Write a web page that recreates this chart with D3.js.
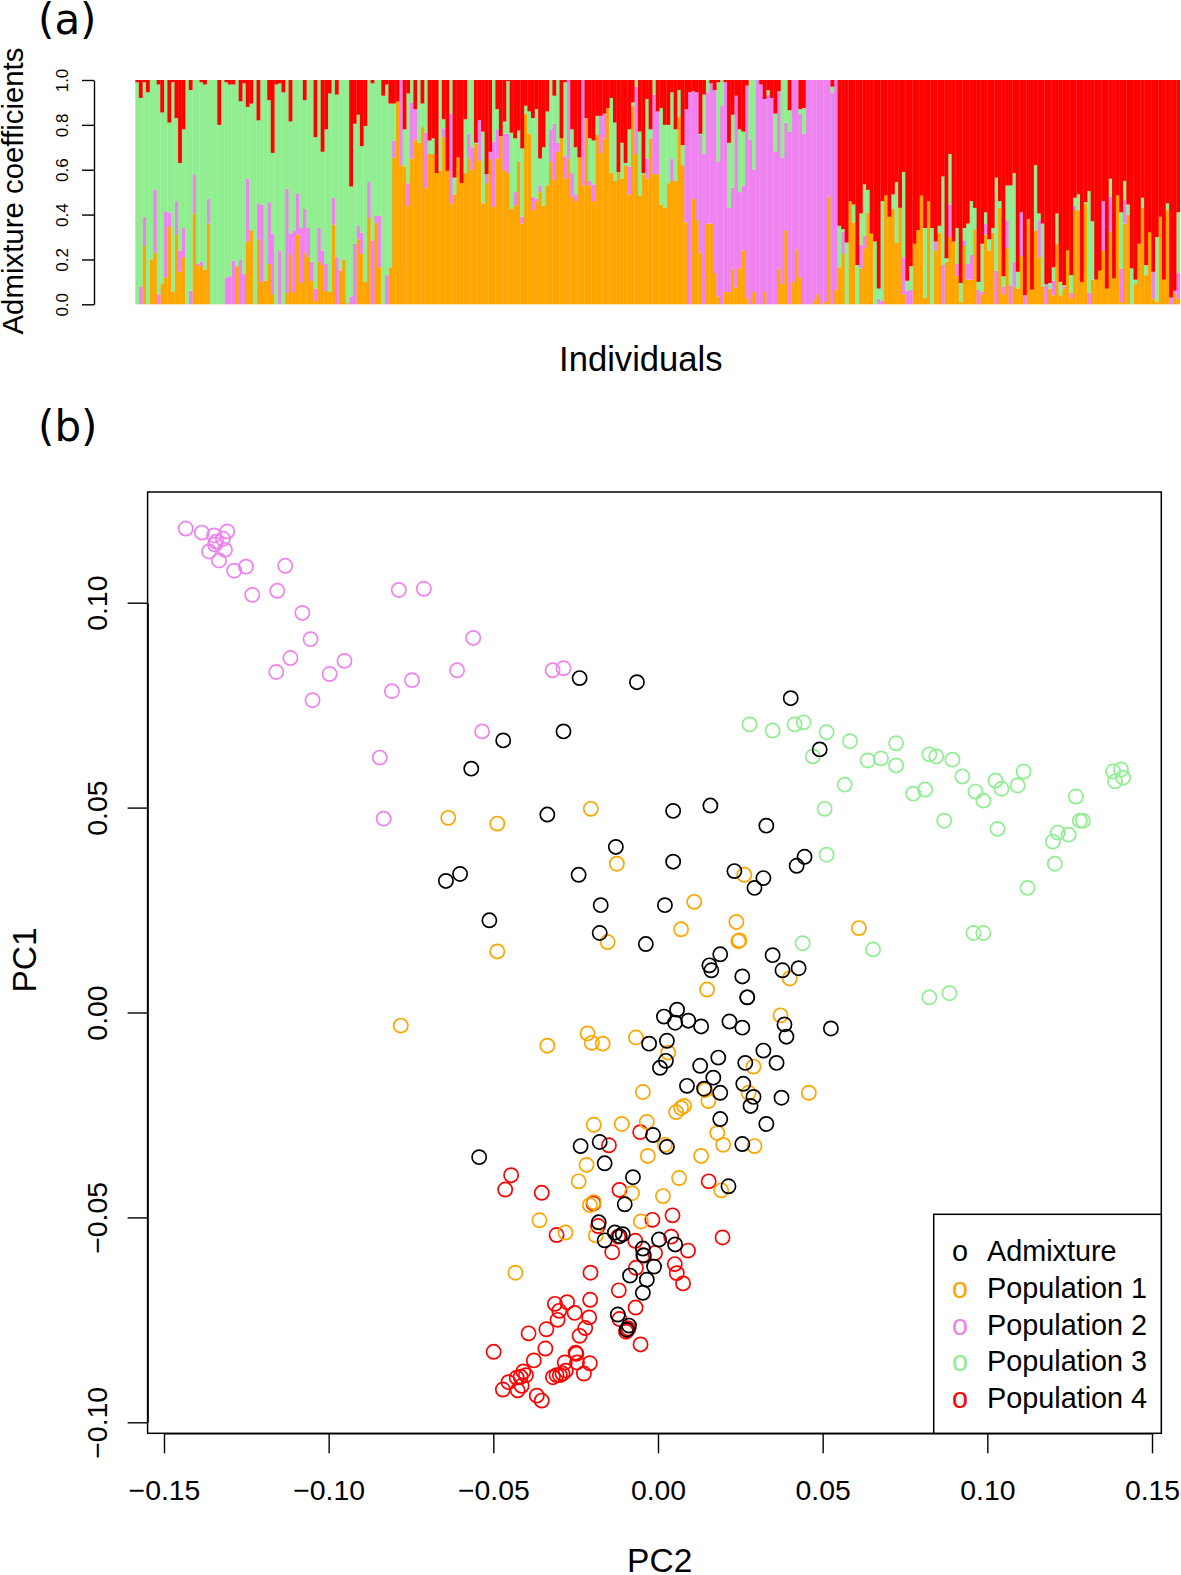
<!DOCTYPE html>
<html lang="en">
<head>
<meta charset="UTF-8">
<title>Admixture coefficients and PCA</title>
<script src="https://d3js.org/d3.v7.min.js"></script>
<style>
    body { margin: 0; background: #fff; }
    svg { display: block; font-family: "Liberation Sans", Arial, sans-serif; }
    .axis line, .axis path { stroke: #000; stroke-width: 1.4px; }
    .axis text { fill: #000; font-family: "Liberation Sans", Arial, sans-serif; }
    .panel { font-family: "DejaVu Sans", sans-serif; }
</style>
</head>
<body>
<div id="chart"></div>
<script>
// (a) cumulative tops of the stacked bars, one value per individual, red fills up to 1
const topOrange = [
    0,0,.26,0,.2,.23,0,.09,.12,.345,
    .055,.31,.145,.21,0,0,.405,.175,.17,.155,
    .36,0,0,0,0,0,0,0,.17,0,
    0,.28,.33,0,.29,.1,.105,.18,.045,0,
    0,0,.05,.225,.055,.31,.095,.23,.21,.105,
    .015,.19,.175,.06,.055,.355,0,.15,.2,.005,
    0,0,.29,.225,.1,.385,0,.365,.165,0,
    0,.165,.655,.905,.62,.615,.44,.65,.735,.72,
    .79,.52,.67,.67,.585,.595,.745,.595,.45,.49,
    .655,.54,.585,.65,.6,.715,.64,.45,.54,.65,
    .435,.65,.75,.6,.585,.425,.44,.635,.36,.85,
    .76,.42,.46,.5,.44,.53,.635,.555,.68,.74,
    .56,.65,.48,.46,.655,.53,.83,.53,.46,.755,
    .675,.74,.875,.585,.55,.59,.56,.62,.49,.885,
    .67,.485,.58,.56,.74,.58,.58,.445,.43,.54,
    .55,.55,.835,.62,.365,0,.47,.375,.23,0,
    .36,.36,.14,.035,0,.055,.055,.16,.075,.16,
    .24,.03,0,.055,0,0,.055,0,0,0,
    .16,.09,.33,0,.1,.245,.12,0,0,0,
    .02,.045,0,.01,.48,0,.065,.165,.225,0,
    .46,.365,0,.16,.25,.41,.315,0,0,0,
    .485,.39,.425,.275,.43,.045,0,0,.27,.33,
    .485,.03,.46,0,.24,.32,0,.19,.3,.28,
    .125,.01,.26,.11,.11,.335,0,.045,.31,.24,
    .32,0,.43,.045,.25,0,.08,.07,.215,0,
    .38,.065,.33,.21,.08,0,.07,.04,.27,.04,
    .07,.24,.03,.42,.42,.1,.45,0,.11,.11,
    .15,.24,.07,.325,.115,.485,.01,.36,.4,0,
    .09,.27,.43,.13,.32,.025,.01,.39,.11,.42,
    0,.05,.025
];
const topViolet = [
    0,.08,.39,0,.2,.51,.045,.09,.415,.41,
    .055,.46,.24,.34,0,.06,.58,.18,.19,.155,
    .47,0,0,0,0,.12,.125,.195,.17,.2,
    .135,.56,.33,0,.45,.445,.105,.455,.315,0,
    .24,0,.515,.315,.33,.495,.34,.425,.34,.19,
    .07,.34,.24,.18,.055,.475,.21,.155,.2,.005,
    .035,.27,.35,.32,.1,.545,.285,.395,.395,0,
    .13,.165,.73,.905,1,.615,.54,.9,.87,.72,
    .79,.765,.67,.67,.585,.595,.785,.595,.85,.49,
    .655,.54,.585,.76,.7,.715,.82,.45,.58,.68,
    .725,.78,.75,.76,.76,.425,.5,.635,.39,.85,
    .76,.48,.47,.53,.44,.53,.78,.805,.72,.74,
    .66,1,.585,.49,.655,1,.83,.55,.535,.755,
    .84,.85,.875,.585,.55,.59,.56,.62,.615,.885,
    .97,.485,.58,.65,.74,.935,.86,.445,.43,.54,
    .65,.55,.835,.62,.87,.945,.95,.945,.755,.67,
    .945,.985,.955,.635,.885,.99,.43,.52,.93,.5,
    .53,.975,.735,.6,1,.98,.915,.935,.92,.68,
    .95,.655,.81,.77,1,1,.85,.76,1,1,
    1,1,1,1,1,.945,1,.165,.325,0,
    .46,.365,0,.265,.305,.41,.315,0,.025,.015,
    .485,.39,.425,.275,.43,.21,.06,.065,.27,.33,
    .485,.03,.46,0,.28,.32,.175,.19,.445,.28,
    .18,.01,.285,.18,.22,.335,.065,.055,.36,.24,
    .32,.15,.43,.08,.375,.085,.19,.07,.41,.04,
    .38,.065,.33,.375,.08,.09,.07,.105,.27,.04,
    .08,.24,.05,.44,.42,.1,.45,.05,.11,.11,
    .15,.46,.07,.48,.115,.485,.16,.465,.4,0,
    .09,.27,.43,.13,.32,.145,.01,.39,.11,.42,
    .03,.06,.14
];
const topGreen = [
    .99,.92,.99,.945,1,1,.98,.855,1,.81,
    .99,.83,.63,.78,1,.955,1,1,.99,.98,
    1,1,1,.8,1,.99,.98,.98,1,.905,
    .985,.88,.895,1,.82,1,1,.91,.675,.98,
    .985,.945,1,.815,1,1,1,.91,1,1,
    .745,1,.68,.78,.94,1,.935,1,1,1,
    .525,.805,.845,.705,.795,1,.985,1,1,.93,
    .98,.895,.895,.905,1,.78,.94,1,.87,1,
    .895,1,.73,.74,.585,1,.825,.595,1,.565,
    .655,.54,.825,1,1,.72,.82,.77,.58,.68,
    1,.87,.75,.815,.995,.765,.74,.775,.695,.885,
    .86,.83,.87,.65,.7,.86,1,.93,1,.74,
    .99,1,.78,.7,.655,1,.83,.74,.73,.84,
    .84,.85,.875,.92,.81,.59,.72,.63,.78,.9,
    1,.77,.585,.915,.78,1,.86,.875,.8,.8,
    .945,.78,.955,.71,.87,.945,.95,.945,.76,.935,
    1,.985,.955,.99,1,.99,.72,.845,.93,.78,
    .77,.975,1,1,1,.98,.915,.955,.92,.85,
    .95,1,1,.865,1,1,.87,.875,1,1,
    1,1,1,1,1,.97,1,.35,.335,.275,
    .46,.445,.175,.405,.535,.51,.315,.28,.07,.46,
    .485,.39,.49,.545,.43,.59,.105,.17,.27,.33,
    .485,.34,.46,.34,.28,.35,.57,.205,.67,.28,
    .34,.095,.34,.36,.46,.43,.1,.27,.41,.29,
    .34,.565,.46,.125,.53,.53,.585,.145,.41,.04,
    .38,.065,.62,.405,.36,.09,.095,.165,.405,.1,
    .085,.24,.13,.475,.49,.1,.455,.505,.37,.11,
    .15,.46,.07,.56,.115,.485,.41,.55,.445,.16,
    .11,.27,.475,.175,.32,.145,.3,.39,.11,.45,
    .03,.06,.41
];

// (b) PCA scores as [PC2, PC1]
const admixture = [
    [-.0238,.0816],[-.0064,.0806],[.0403,.0767],[.0491,.0642],[-.0287,.0686],[-.047,.0664],[-.0567,.0595],[-.0336,.0483],
    [.0046,.0492],[.0159,.0505],[.0329,.0456],[-.0128,.0404],[.0046,.0368],[.0445,.038],[.0421,.0358],[.0232,.0345],
    [.032,.0328],[.0293,.0304],[-.0241,.0336],[-.0644,.0321],[-.0601,.0338],[-.0174,.0262],[-.0512,.0225],[.0021,.0262],
    [-.0177,.0194],[-.0037,.0167],[.0348,.014],[.0189,.0142],[.0156,.0115],[.0162,.0103],[.0378,.0103],[.0427,.0108],
    [.0256,.0088],[.0271,.0037],[.0271,.0037],[.0018,-.001],[.0058,.0007],[.0052,-.0025],[.0092,-.002],[.0131,-.0034],
    [.0217,-.0022],[.0256,-.0037],[.0384,-.0029],[.039,-.0059],[.0525,-.0039],[.0027,-.0069],[-.0027,-.0076],[.0024,-.0118],
    [.0006,-.0135],[.0128,-.013],[.0265,-.0123],[.032,-.0093],[.036,-.0123],[.0183,-.011],[.0168,-.0159],[.0088,-.0179],
    [.0189,-.0196],[.0259,-.0174],[.014,-.0186],[.029,-.0206],[.0375,-.0208],[.0281,-.0228],[.0189,-.026],[.0329,-.0272],
    [.0256,-.0321],[-.0015,-.0299],[.0027,-.0328],[-.0235,-.0326],[-.0177,-.0316],[-.0162,-.0368],[-.0543,-.0353],[-.0076,-.0402],
    [.0214,-.0424],[-.0101,-.0468],[-.018,-.0512],[-.0131,-.0537],[-.0107,-.0541],[-.0116,-.0546],[-.0162,-.0556],[.0052,-.0566],
    [.0003,-.0554],[-.0046,-.0576],[-.0043,-.0593],[-.0085,-.0642],[-.0012,-.062],[-.0034,-.0652],[-.0046,-.0684],[-.0122,-.0737],
    [-.0088,-.0764],[-.0095,-.0774]
];
const population1 = [
    [-.0637,.0475],[-.0488,.0461],[-.0204,.0497],[-.0125,.0363],[.011,.027],[.0262,.0336],[.0238,.0221],[.007,.0203],
    [.0247,.0176],[.0244,.0174],[-.0153,.0172],[-.0488,.0149],[.061,.0206],[.04,.0083],[.0149,.0056],[.0372,-.0007],
    [-.0781,-.0032],[-.0214,-.0051],[-.0201,-.0074],[-.0168,-.0076],[-.0336,-.0081],[-.0067,-.0061],[.0031,-.0098],[-.0046,-.0194],
    [.029,-.0132],[.0143,-.0189],[.0153,-.0216],[.0275,-.0196],[.0458,-.0196],[.0055,-.0243],[.007,-.0233],[.0079,-.0228],
    [-.0195,-.0274],[-.011,-.0272],[-.0034,-.0267],[.018,-.0294],[.0198,-.0323],[.0293,-.0326],[-.0031,-.035],[.0131,-.035],
    [-.0217,-.0372],[-.0241,-.0412],[.0064,-.0404],[.0192,-.0434],[.0015,-.0448],[-.0079,-.0441],[-.0195,-.0463],[-.0207,-.047],
    [-.0052,-.051],[-.036,-.0507],[-.0281,-.0537],[-.0189,-.0544],[-.0433,-.0635],[.0021,-.0323]
];
const population2 = [
    [-.1434,.1181],[-.1385,.1171],[-.1348,.1164],[-.1308,.1174],[-.1321,.1156],[-.1342,.1149],[-.1363,.1125],[-.1315,.1129],
    [-.1333,.1103],[-.1287,.1078],[-.1251,.1088],[-.1232,.1019],[-.1156,.1029],[-.1132,.109],[-.108,.0975],[-.1055,.0911],
    [-.1116,.0865],[-.1159,.0831],[-.1049,.0762],[-.0997,.0826],[-.0952,.0858],[-.0787,.1031],[-.0711,.1034],[-.0561,.0914],
    [-.061,.0835],[-.032,.0835],[-.0287,.084],[-.0808,.0784],[-.0747,.0811],[-.0845,.0622],[-.0833,.0473],[-.0534,.0686],
    [-.1345,.1142]
];
const population3 = [
    [.0278,.0703],[.0348,.0688],[.0415,.0703],[.0442,.0708],[.047,.0625],[.0512,.0684],[.0583,.0662],[.0567,.0556],
    [.0506,.0497],[.0512,.0385],[.0637,.0615],[.0677,.062],[.0723,.0657],[.0723,.0603],[.0775,.0534],[.0811,.0544],
    [.0824,.063],[.0845,.0625],[.0894,.0617],[.0924,.0576],[.0964,.0539],[.0988,.0517],[.1025,.0566],[.1043,.0546],
    [.1092,.0554],[.111,.0588],[.1031,.0448],[.0869,.0468],[.1382,.0588],[.1406,.0593],[.1412,.0573],[.1388,.0564],
    [.1269,.0527],[.1281,.0468],[.129,.0468],[.1247,.0434],[.1214,.0439],[.1199,.0417],[.1205,.0363],[.1122,.0304],
    [.0958,.0194],[.0988,.0194],[.0439,.0169],[.0653,.0154],[.0824,.0037],[.0885,.0047]
];
const population4 = [
    [-.0149,-.0324],[-.0054,-.0292],[-.0446,-.0397],[-.0464,-.0432],[-.0353,-.044],[-.0117,-.0433],[.0154,-.0412],[-.0196,-.0466],
    [.0044,-.0495],[-.0017,-.0506],[-.0182,-.0521],[-.0308,-.0543],[-.0121,-.0547],[.004,-.0547],[-.0069,-.0557],[.0196,-.0549],
    [-.0139,-.0585],[-.0045,-.0592],[-.0009,-.0587],[.0091,-.0581],[-.0067,-.0623],[.0051,-.0614],[.0057,-.0636],[.0076,-.0661],
    [-.0205,-.0635],[-.0119,-.0678],[-.0068,-.072],[-.0206,-.0701],[-.0313,-.0711],[-.0276,-.0707],[-.03,-.0728],[-.0253,-.0733],
    [-.0305,-.075],[-.0209,-.0744],[-.0221,-.077],[-.0339,-.0773],[-.0393,-.0783],[-.0238,-.0789],[-.0117,-.0748],[-.0093,-.0775],
    [-.0097,-.0779],[-.009,-.0771],[-.0053,-.081],[-.0342,-.082],[-.0499,-.0828],[-.025,-.083],[-.0377,-.0849],[-.0248,-.0833],
    [-.0283,-.0854],[-.0246,-.0854],[-.0207,-.0856],[-.0225,-.0881],[-.028,-.0874],[-.029,-.0881],[-.0298,-.0885],[-.0319,-.089],
    [-.0409,-.0876],[-.0401,-.0885],[-.0417,-.0889],[-.0429,-.0891],[-.0454,-.0902],[-.0414,-.0911],[-.0426,-.0922],[-.0471,-.092],
    [-.0368,-.0935],[-.0353,-.0947],[-.0308,-.0885]
];

const legendLabels = ["Admixture", "Population 1", "Population 2", "Population 3", "Population 4"];
const legendColors = ["#000000", "#FFA500", "#EE82EE", "#90EE90", "#FF0000"];
const barTicks = [0, 0.2, 0.4, 0.6, 0.8, 1];
const pc2Ticks = [-0.15, -0.10, -0.05, 0, 0.05, 0.10, 0.15];
const pc1Ticks = [-0.10, -0.05, 0, 0.05, 0.10];

const width = 1181, height = 1575;
const svg = d3.select("#chart").append("svg").attr("width", width).attr("height", height);

// panel (a)
const indices = d3.range(topOrange.length);
const xBar = d3.scaleBand().domain(indices).range([135.3, 1179.8]).padding(0);
const yBar = d3.scaleLinear().domain([0, 1]).range([304.3, 80]);
const ones = indices.map(() => 1);
const zeros = indices.map(() => 0);
const layers = [
    { color: "#FFA500", lo: zeros, hi: topOrange },
    { color: "#EE82EE", lo: topOrange, hi: topViolet },
    { color: "#90EE90", lo: topViolet, hi: topGreen },
    { color: "#FF0000", lo: topGreen, hi: ones }
];
svg.append("g").selectAll("g").data(layers).enter().append("g")
    .attr("fill", d => d.color)
    .each(function(layer) {
        d3.select(this).selectAll("rect").data(indices).enter().append("rect")
            .attr("x", i => xBar(i))
            .attr("width", xBar.bandwidth() + 0.25) // hides most of the white seam between bars
            .attr("y", i => yBar(layer.hi[i]))
            .attr("height", i => Math.max(0, yBar(layer.lo[i]) - yBar(layer.hi[i])));
    });

// rotated tick labels, R style
function rotateLabels(sel, size, shift) {
    sel.selectAll("text")
        .attr("font-size", size)
        .attr("x", 0).attr("y", 0).attr("dy", 0)
        .attr("text-anchor", "middle")
        .attr("transform", `translate(${shift},0) rotate(-90)`);
}

svg.append("g").attr("class", "axis").attr("transform", "translate(94,0)")
    .call(d3.axisLeft(yBar).tickValues(barTicks).tickFormat(d3.format(".1f")).tickSize(12).tickSizeOuter(0))
    .call(rotateLabels, 17, -25.7);

svg.append("text").attr("transform", "translate(23,191) rotate(-90)")
    .attr("text-anchor", "middle").attr("font-size", 29.4)
    .text("Admixture coefficients");
svg.append("text").attr("x", 640.8).attr("y", 371).attr("text-anchor", "middle")
    .attr("font-size", 34.6).text("Individuals");
svg.append("text").attr("class", "panel").attr("x", 38).attr("y", 34).attr("font-size", 42).text("(a)");
svg.append("text").attr("class", "panel").attr("x", 38).attr("y", 441).attr("font-size", 42).text("(b)");

// panel (b)
const x = d3.scaleLinear().domain([-0.15, 0.15]).range([164, 1152]);
const y = d3.scaleLinear().domain([-0.10, 0.10]).range([1422.3, 602.7]);
const box = { left: 147.6, right: 1161.3, top: 492, bottom: 1433.3 };

svg.append("g").attr("class", "axis").attr("transform", `translate(0,${box.bottom})`)
    .call(d3.axisBottom(x).tickValues(pc2Ticks).tickFormat(d3.format(".2f")).tickSize(20).tickSizeOuter(0))
    .selectAll("text").attr("font-size", 28.4).attr("y", 66.7).attr("dy", 0);

svg.append("g").attr("class", "axis").attr("transform", `translate(${box.left},0)`)
    .call(d3.axisLeft(y).tickValues(pc1Ticks).tickFormat(d3.format(".2f")).tickSize(20).tickSizeOuter(0))
    .call(rotateLabels, 28.4, -40.9);

svg.append("rect")
    .attr("x", box.left).attr("y", box.top)
    .attr("width", box.right - box.left).attr("height", box.bottom - box.top)
    .attr("fill", "none").attr("stroke", "#000").attr("stroke-width", 1.5);

const groups = [
    { points: population4, color: "#FF0000" },
    { points: population1, color: "#FFA500" },
    { points: population2, color: "#EE82EE" },
    { points: population3, color: "#90EE90" },
    { points: admixture, color: "#000000" }
];
groups.forEach(g => {
    svg.append("g").selectAll("circle").data(g.points).enter().append("circle")
        .attr("cx", d => x(d[0]))
        .attr("cy", d => y(d[1]))
        .attr("r", 7.1)
        .attr("fill", "none")
        .attr("stroke", g.color)
        .attr("stroke-width", 1.7);
});

svg.append("text").attr("transform", "translate(35.7,960) rotate(-90)")
    .attr("text-anchor", "middle").attr("font-size", 33.5).text("PC1");
svg.append("text").attr("x", 659.7).attr("y", 1571.7).attr("text-anchor", "middle")
    .attr("font-size", 33.5).text("PC2");

// legend
const legend = svg.append("g");
legend.append("rect")
    .attr("x", 933.7).attr("y", 1214.3)
    .attr("width", box.right - 933.7).attr("height", box.bottom - 1214.3)
    .attr("fill", "#fff").attr("stroke", "#000").attr("stroke-width", 1.5);
const rowY = d3.scalePoint().domain(legendLabels).range([1261.2, 1407.8]);
legendLabels.forEach((label, i) => {
    legend.append("text").attr("x", 960).attr("y", rowY(label)).attr("text-anchor", "middle")
        .attr("font-size", 28.8).attr("fill", legendColors[i]).text("o");
    legend.append("text").attr("x", 987).attr("y", rowY(label))
        .attr("font-size", 28.8).text(label);
});
</script>
</body>
</html>
